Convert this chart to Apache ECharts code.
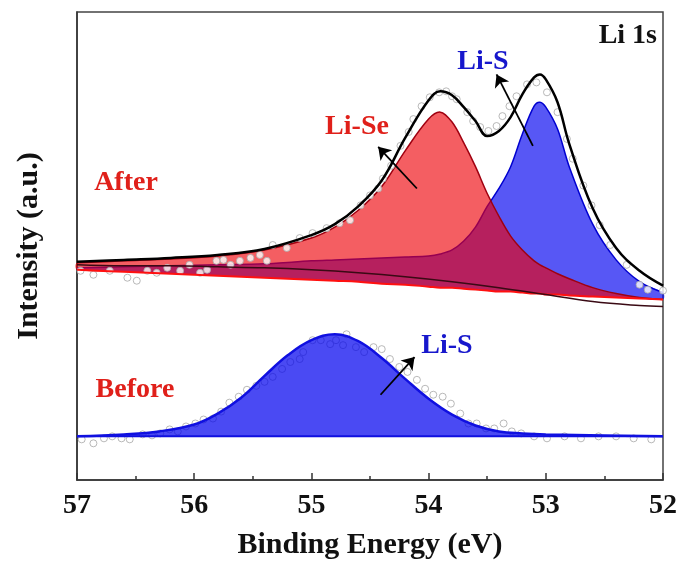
<!DOCTYPE html>
<html>
<head>
<meta charset="utf-8">
<script src="https://cdn.jsdelivr.net/npm/echarts/dist/echarts.min.js"></script>
<style>
html,body{margin:0;padding:0;background:#fff;}
#chart{width:681px;height:565px;}
</style>
</head>
<body>
<div id="chart"></div>
<script>
// ---------- DATA ----------
// Fit curves for the "After" spectrum, sampled at these binding energies (eV)
const fitEnergy = [57, 56.6, 56.2, 55.8, 55.4, 55.0, 54.8, 54.6, 54.4, 54.2, 54.0, 53.9, 53.8, 53.7, 53.6, 53.5, 53.4, 53.3, 53.2, 53.1, 53.05, 53.0, 52.9, 52.8, 52.6, 52.4, 52.2, 52.0];
const afterEnvelope = [220, 222, 224, 227, 233, 247, 258, 276, 302, 345, 383, 392, 388, 376, 362, 347, 352, 366, 389, 406, 409, 404, 381, 339, 274, 234, 211, 196];
const afterLiSe = [219, 221, 223, 226, 232, 244, 255, 272, 296, 332, 364, 371, 361, 340, 316, 289, 266, 246, 232, 221, 217, 214, 208, 203, 194, 188, 184, 182];
const afterLiS = [214, 215, 216, 217, 218, 221, 222, 223, 224, 225, 226, 228, 232, 241, 255, 276, 294, 316, 349, 377, 381, 376, 354, 316, 258, 222, 200, 189];
const afterFitBase = [212, 210, 208, 206, 204, 202, 201, 200, 198, 197, 195, 194, 194, 193, 192, 191, 190, 190, 189, 188, 188, 187, 187, 186, 185, 184, 183, 182];
// Background line of the "After" fit
const bgEnergy = [57, 56.6, 56.2, 55.8, 55.4, 55.0, 54.6, 54.2, 53.8, 53.4, 53.0, 52.6, 52.2, 52.0];
const afterBackground = [217, 216, 216, 215, 214, 212, 209, 205, 200, 194, 187, 180, 176, 175];
// Raw data points of the "After" spectrum
const afterDataEnergy = [56.97, 56.86, 56.72, 56.57, 56.49, 56.40, 56.32, 56.23, 56.12, 56.04, 55.95, 55.89, 55.81, 55.75, 55.69, 55.61, 55.52, 55.44, 55.38, 55.33, 55.21, 55.10, 54.99, 54.87, 54.76, 54.67, 54.58, 54.50, 54.43, 54.39, 54.32, 54.24, 54.17, 54.13, 54.06, 53.99, 53.91, 53.85, 53.80, 53.76, 53.67, 53.62, 53.56, 53.49, 53.42, 53.37, 53.31, 53.25, 53.16, 53.08, 52.99, 52.90, 52.82, 52.77, 52.68, 52.61, 52.54, 52.45, 52.31, 52.20, 52.13, 52.00];
const afterDataIntensity = [211, 207, 211, 204, 201, 211, 209, 214, 211, 217, 209, 212, 221, 222, 217, 221, 224, 227, 221, 237, 234, 244, 249, 254, 259, 262, 277, 287, 294, 304, 317, 337, 351, 364, 377, 386, 391, 392, 387, 384, 371, 362, 356, 352, 357, 367, 377, 387, 399, 401, 391, 371, 344, 324, 297, 277, 257, 237, 217, 197, 192, 191];
// "Before" spectrum
const beforeEnergy = [57, 56.6, 56.3, 56.0, 55.8, 55.6, 55.4, 55.2, 55.0, 54.8, 54.6, 54.4, 54.2, 54.0, 53.8, 53.6, 53.4, 53.2, 53.0, 52.5, 52.0];
const beforeLiS = [44, 46, 49, 56, 67, 83, 105, 126, 141, 147, 140, 123, 102, 82, 66, 55, 49, 47, 46, 45, 44];
const beforeBaseline = 44;
const beforeDataEnergy = [56.96, 56.86, 56.77, 56.70, 56.62, 56.55, 56.44, 56.36, 56.29, 56.21, 56.14, 56.07, 55.99, 55.92, 55.84, 55.77, 55.70, 55.62, 55.55, 55.47, 55.40, 55.33, 55.25, 55.18, 55.10, 55.07, 54.99, 54.92, 54.84, 54.79, 54.73, 54.70, 54.62, 54.55, 54.47, 54.40, 54.33, 54.25, 54.18, 54.10, 54.03, 53.96, 53.88, 53.81, 53.73, 53.66, 53.59, 53.51, 53.44, 53.36, 53.29, 53.21, 53.10, 52.99, 52.84, 52.70, 52.55, 52.40, 52.25, 52.10];
const beforeDataIntensity = [41, 37, 42, 44, 42, 41, 46, 45, 47, 51, 49, 54, 57, 61, 62, 69, 78, 84, 91, 95, 99, 104, 112, 119, 122, 129, 141, 141, 137, 141, 136, 147, 134, 129, 134, 132, 122, 114, 109, 101, 92, 86, 84, 77, 67, 57, 57, 52, 52, 57, 49, 47, 44, 42, 44, 42, 44, 44, 42, 41];
// Axis
const xTicks = [57, 56, 55, 54, 53, 52];
const energyMin = 52, energyMax = 57;
const intensityMin = 0, intensityMax = 472;
// Annotation arrows: [fromEnergy, fromIntensity, toEnergy, toIntensity]
const arrows = [
  [54.10, 294, 54.43, 336],
  [53.11, 337, 53.42, 409],
  [54.41, 86, 54.12, 124]
];

// ---------- CHART ----------
const FONT = "'Liberation Serif', 'Times New Roman', serif";
const pairs = (xs, ys) => xs.map((x, i) => [x, ys[i]]);

// filled band between a component curve and the fit base, drawn through the axes' scales
function bandSeries(name, upper, fill, stroke) {
  return {
    type: 'custom', name, coordinateSystem: 'cartesian2d', silent: true,
    data: fitEnergy.map((e, i) => [e, upper[i], afterFitBase[i]]),
    encode: {x: 0, y: [1, 2]},
    renderItem: (params, api) => {
      if (params.dataIndex !== 0) return null;
      const top = fitEnergy.map((e, i) => api.coord([e, upper[i]]));
      const bot = fitEnergy.map((e, i) => api.coord([e, afterFitBase[i]]));
      return {
        type: 'group',
        children: [
          {type: 'polygon', shape: {points: top.concat(bot.slice().reverse()), smooth: 0.35},
           style: {fill: fill, stroke: null}},
          {type: 'polyline', shape: {points: top, smooth: 0.35},
           style: {stroke: stroke, lineWidth: 1.5, fill: null}}
        ]
      };
    }
  };
}

const chart = echarts.init(document.getElementById('chart'), null, {renderer: 'canvas'});

const option = {
  animation: false,
  backgroundColor: '#fff',
  grid: {left: 77, right: 18, top: 12, bottom: 81, show: true, borderColor: '#444', borderWidth: 1.5},
  xAxis: {
    type: 'value', min: energyMin, max: energyMax, interval: 1, inverse: true,
    axisLine: {show: true, lineStyle: {color: '#333', width: 1.5}},
    axisTick: {show: true, inside: true, length: 7, lineStyle: {color: '#333', width: 1.5}},
    minorTick: {show: true, splitNumber: 2, length: 4, lineStyle: {color: '#333', width: 1.5}},
    splitLine: {show: false},
    axisLabel: {
      color: '#111', fontSize: 28, fontWeight: 'bold', fontFamily: FONT, margin: 12,
      formatter: v => xTicks.includes(v) ? String(v) : ''
    },
    name: 'Binding Energy (eV)', nameLocation: 'middle', nameGap: 50,
    nameTextStyle: {color: '#111', fontSize: 30, fontWeight: 'bold', fontFamily: FONT}
  },
  yAxis: {
    type: 'value', min: intensityMin, max: intensityMax,
    axisLine: {show: true, lineStyle: {color: '#333', width: 1.5}},
    axisTick: {show: false}, axisLabel: {show: false}, splitLine: {show: false},
    name: 'Intensity (a.u.)', nameLocation: 'middle', nameGap: 33, nameRotate: 90,
    nameTextStyle: {color: '#111', fontSize: 30, fontWeight: 'bold', fontFamily: FONT}
  },
  graphic: [
    {type: 'text', right: 24, top: 22, style: {text: 'Li 1s', font: `bold 28px ${FONT}`, fill: '#111'}},
    {type: 'text', x: 483, y: 62, style: {text: 'Li-S', font: `bold 28px ${FONT}`, fill: '#1717cc', textAlign: 'center', textVerticalAlign: 'middle'}},
    {type: 'text', x: 357, y: 127, style: {text: 'Li-Se', font: `bold 28px ${FONT}`, fill: '#e0201a', textAlign: 'center', textVerticalAlign: 'middle'}},
    {type: 'text', x: 126, y: 183, style: {text: 'After', font: `bold 28px ${FONT}`, fill: '#e0201a', textAlign: 'center', textVerticalAlign: 'middle'}},
    {type: 'text', x: 135, y: 390, style: {text: 'Before', font: `bold 28px ${FONT}`, fill: '#e0201a', textAlign: 'center', textVerticalAlign: 'middle'}},
    {type: 'text', x: 447, y: 346, style: {text: 'Li-S', font: `bold 28px ${FONT}`, fill: '#1717cc', textAlign: 'center', textVerticalAlign: 'middle'}}
  ],
  series: [
    bandSeries('Li-S (After)', afterLiS, 'rgba(0,0,240,0.66)', '#0000d0'),
    bandSeries('Li-Se (After)', afterLiSe, 'rgba(238,0,6,0.63)', '#a00010'),
    // fit base (red line)
    {type: 'line', name: 'fit base', smooth: 0.4, showSymbol: false, symbol: 'none',
     data: pairs(fitEnergy, afterFitBase), lineStyle: {color: '#ff1010', width: 2}},
    // background (dark line)
    {type: 'line', name: 'background', smooth: 0.4, showSymbol: false, symbol: 'none',
     data: pairs(bgEnergy, afterBackground), lineStyle: {color: '#3a0a14', width: 1.5}},
    // envelope
    {type: 'line', name: 'envelope', smooth: 0.4, showSymbol: false, symbol: 'none',
     data: pairs(fitEnergy, afterEnvelope), lineStyle: {color: '#000', width: 2.5}},
    // Before component
    {type: 'line', name: 'Li-S (Before)', smooth: 0.4, showSymbol: false, symbol: 'none',
     data: pairs(beforeEnergy, beforeLiS),
     lineStyle: {color: '#1010e0', width: 2.5},
     areaStyle: {color: 'rgba(0,0,238,0.71)', opacity: 1, origin: beforeBaseline}},
    {type: 'line', name: 'Before base', showSymbol: false, symbol: 'none',
     data: [[energyMax, beforeBaseline], [energyMin, beforeBaseline]],
     lineStyle: {color: '#1010e0', width: 2}},
    // raw data points
    {type: 'scatter', name: 'After data', symbol: 'circle', symbolSize: 7,
     data: pairs(afterDataEnergy, afterDataIntensity),
     itemStyle: {color: '#fff', borderColor: '#a8a8a8', borderWidth: 1}},
    {type: 'scatter', name: 'Before data', symbol: 'circle', symbolSize: 7,
     data: pairs(beforeDataEnergy, beforeDataIntensity),
     itemStyle: {color: '#fff', borderColor: '#a8a8a8', borderWidth: 1}},
    // arrows
    {type: 'line', name: 'arrows', data: [], silent: true,
     markLine: {
       silent: true, animation: false, symbol: ['none', 'arrow'], symbolSize: 12,
       label: {show: false},
       lineStyle: {color: '#000', width: 1.8, type: 'solid'},
       data: arrows.map(a => [{coord: [a[0], a[1]]}, {coord: [a[2], a[3]]}])
     }}
  ]
};
chart.setOption(option);
</script>
</body>
</html>
